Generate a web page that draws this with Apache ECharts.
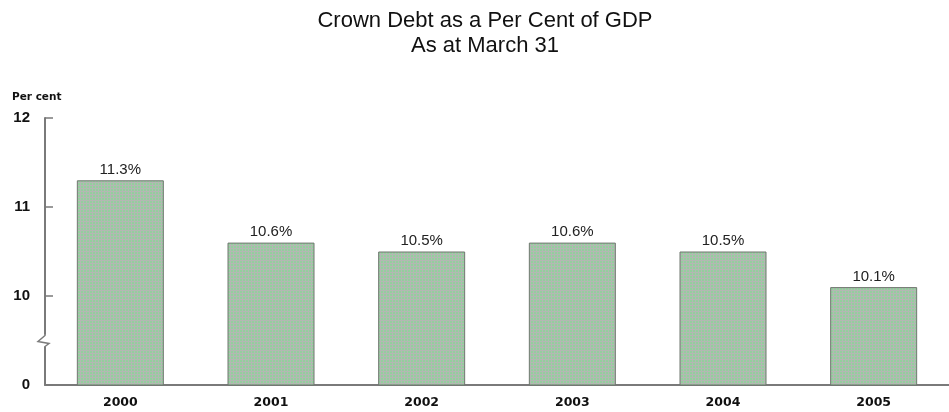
<!DOCTYPE html>
<html>
<head>
<meta charset="utf-8">
<script src="https://cdn.jsdelivr.net/npm/echarts@6/dist/echarts.min.js"></script>
<style>
  html, body { margin: 0; padding: 0; background: #fff; }
  #chart { width: 949px; height: 412px; }
</style>
</head>
<body>
<div id="chart"></div>
<script>
// Crown debt as a share of GDP, at 31 March each year
const years = ['2000', '2001', '2002', '2003', '2004', '2005'];
const debtPct = [11.3, 10.6, 10.5, 10.6, 10.5, 10.1];

// Broken value axis: the bottom position stands for 0, then 10..12
const axisBase = 9;
const axisTop = 12;
const axisLabelMap = { 9: '0', 10: '10', 11: '11', 12: '12' };

// Small dotted green texture for the bars
function barPattern() {
  const c = document.createElement('canvas');
  c.width = 3; c.height = 3;
  const g = c.getContext('2d');
  g.fillStyle = '#93cf9d';
  g.fillRect(0, 0, 3, 3);
  g.fillStyle = '#b3b8b3';
  g.fillRect(0, 2, 3, 1);
  g.fillRect(2, 0, 1, 3);
  return c;
}

const chart = echarts.init(document.getElementById('chart'), null, { renderer: 'canvas' });

const option = {
  animation: false,
  backgroundColor: '#ffffff',
  title: [
    {
      text: 'Crown Debt as a Per Cent of GDP\nAs at March 31',
      left: 485,
      top: 8,
      padding: 0,
      textAlign: 'center',
      textStyle: {
        fontFamily: 'Liberation Sans, Arial, sans-serif',
        fontSize: 22,
        fontWeight: 'normal',
        color: '#111',
        lineHeight: 25
      }
    },
    {
      text: 'Per cent',
      left: 12,
      top: 92,
      padding: 0,
      textStyle: {
        fontFamily: 'DejaVu Sans, sans-serif',
        fontSize: 10.5,
        fontWeight: 'bold',
        color: '#111'
      }
    }
  ],
  grid: {
    left: 45,
    top: 118,
    width: 917,
    bottom: 27,
    containLabel: false
  },
  xAxis: {
    type: 'category',
    data: years,
    axisLine: { show: true, lineStyle: { color: '#7a7a7a', width: 2 } },
    axisTick: { show: false },
    axisLabel: {
      margin: 11,
      fontFamily: 'DejaVu Sans, sans-serif',
      fontSize: 12.5,
      fontWeight: 'bold',
      color: '#111'
    }
  },
  yAxis: {
    type: 'value',
    min: axisBase,
    max: axisTop,
    interval: 1,
    axisLine: { show: true, lineStyle: { color: '#7a7a7a', width: 2 } },
    axisTick: { show: true, inside: true, length: 8, lineStyle: { color: '#7a7a7a', width: 1.5 } },
    splitLine: { show: false },
    axisLabel: {
      margin: 15,
      fontFamily: 'Liberation Sans, Arial, sans-serif',
      fontSize: 15,
      fontWeight: 'bold',
      color: '#111',
      formatter: v => axisLabelMap[v] !== undefined ? axisLabelMap[v] : ''
    }
  },
  series: [
    {
      type: 'bar',
      data: debtPct,
      barWidth: 87,
      itemStyle: {
        color: { image: barPattern(), repeat: 'repeat' },
        borderColor: '#6f776f',
        borderWidth: 1
      },
      label: {
        show: true,
        position: 'top',
        distance: 3,
        formatter: p => p.value.toFixed(1) + '%',
        fontFamily: 'Liberation Sans, Arial, sans-serif',
        fontSize: 15,
        color: '#222'
      }
    }
  ]
};

chart.setOption(option);

// Break mark on the value axis between 0 and 10
function drawBreak() {
  const axisX = chart.getModel().getComponent('grid').coordinateSystem.getRect().x;
  const y = chart.convertToPixel({ yAxisIndex: 0 }, 9.5);
  chart.setOption({
    graphic: [
      {
        type: 'rect',
        shape: { x: axisX - 3, y: y - 6, width: 6, height: 12 },
        style: { fill: '#fff' },
        z: 100
      },
      {
        type: 'polyline',
        shape: {
          points: [
            [axisX, y - 8],
            [axisX, y - 5],
            [axisX - 7, y + 1],
            [axisX + 4, y + 3],
            [axisX, y + 6],
            [axisX, y + 8]
          ]
        },
        style: { stroke: '#7a7a7a', lineWidth: 1.5, fill: null },
        z: 101
      }
    ]
  });
}
drawBreak();
</script>
</body>
</html>
